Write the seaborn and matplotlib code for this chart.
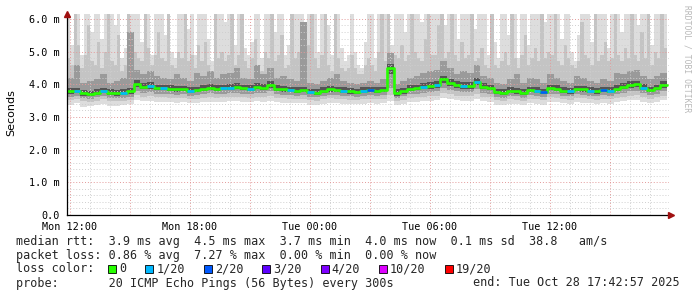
import numpy as np
import pandas as pd
import matplotlib
matplotlib.use("Agg")
import matplotlib.pyplot as plt
import matplotlib.dates as mdates
from matplotlib.patches import Rectangle
import seaborn as sns

# ---------------- data ----------------
start_time = "2025-10-27 11:51"
step_minutes = 20        # resolution of median / inner quantiles
fine_step_minutes = 10   # resolution of outer smoke (max / p90)

median_rtt = [3.78,3.80,3.72,3.70,3.74,3.80,3.74,3.72,3.74,3.78,
              4.02,3.92,3.95,3.88,3.88,3.86,3.84,3.85,3.80,3.82,
              3.86,3.90,3.86,3.88,3.90,3.92,3.88,3.86,3.92,3.90,
              3.98,3.86,3.84,3.82,3.80,3.82,3.76,3.74,3.80,3.84,
              3.82,3.80,3.78,3.76,3.80,3.82,3.80,3.82,4.50,3.72,
              3.78,3.86,3.88,3.92,3.95,3.98,4.15,4.05,3.98,3.95,
              3.95,4.08,3.92,3.88,3.76,3.74,3.80,3.78,3.74,3.82,
              3.80,3.76,3.88,3.86,3.80,3.78,3.85,3.84,3.80,3.78,
              3.82,3.80,3.86,3.92,3.98,4.00,3.90,3.82,3.88,3.98]

loss = [0,1,0,0,0,1,0,0,1,0,
        0,0,1,0,1,0,0,0,1,0,
        0,0,0,1,1,0,0,1,0,0,
        0,0,0,1,0,0,1,0,0,0,
        0,1,0,0,1,2,0,0,0,0,
        0,0,0,1,0,1,0,0,0,1,
        0,1,0,0,0,0,0,0,0,0,
        1,2,0,0,0,1,0,0,1,0,
        2,1,0,0,0,0,1,0,0,0]

p60 = [3.88,3.90,3.82,3.80,3.85,3.90,3.84,3.83,3.85,3.90,
       4.12,4.04,4.06,3.99,3.98,3.97,3.95,3.96,3.91,3.93,
       3.97,4.01,3.97,3.99,4.01,4.04,3.99,3.97,4.03,4.01,
       4.09,3.97,3.95,3.93,3.91,3.93,3.87,3.85,3.91,3.95,
       3.93,3.91,3.89,3.87,3.91,3.93,3.91,3.93,4.62,3.84,
       3.89,3.97,3.99,4.03,4.06,4.09,4.26,4.16,4.09,4.06,
       4.06,4.19,4.03,3.99,3.87,3.85,3.91,3.89,3.85,3.93,
       3.91,3.87,3.99,3.97,3.91,3.89,3.96,3.95,3.91,3.89,
       3.93,3.91,3.97,4.03,4.09,4.11,4.01,3.93,3.99,4.09]

p40 = [3.71,3.72,3.65,3.63,3.67,3.72,3.67,3.65,3.67,3.71,
       3.93,3.84,3.87,3.81,3.81,3.79,3.77,3.78,3.73,3.75,
       3.79,3.82,3.79,3.81,3.82,3.84,3.81,3.79,3.84,3.82,
       3.89,3.79,3.77,3.75,3.73,3.75,3.69,3.67,3.73,3.77,
       3.75,3.73,3.71,3.69,3.73,3.75,3.73,3.75,4.30,3.65,
       3.71,3.79,3.81,3.84,3.87,3.89,4.05,3.96,3.89,3.87,
       3.87,3.99,3.84,3.81,3.69,3.67,3.73,3.71,3.67,3.75,
       3.73,3.69,3.81,3.79,3.73,3.71,3.78,3.77,3.73,3.71,
       3.75,3.73,3.79,3.84,3.89,3.91,3.82,3.75,3.81,3.89]

p75 = [4.20,4.60,4.05,4.10,4.15,4.30,4.05,4.10,4.20,5.60,
       4.45,4.30,4.40,4.25,4.20,4.15,4.30,4.20,4.10,4.35,
       4.25,4.40,4.20,4.30,4.35,4.50,4.20,4.15,4.60,4.30,
       4.50,4.20,4.25,4.15,4.10,5.90,4.05,4.00,4.10,4.20,
       4.30,4.10,4.05,4.00,4.05,4.10,4.05,4.15,4.95,4.00,
       4.10,4.20,4.25,4.35,4.40,4.45,4.70,4.50,4.30,4.40,
       4.35,4.60,4.25,4.20,4.05,4.00,4.15,4.30,4.05,4.20,
       4.15,4.05,4.30,4.20,4.10,4.05,4.25,4.20,4.10,4.05,
       4.15,4.10,4.35,4.30,4.40,4.45,4.25,4.15,4.25,4.35]

p25 = [3.62,3.64,3.58,3.56,3.60,3.63,3.58,3.57,3.59,3.62,
       3.80,3.74,3.76,3.71,3.71,3.70,3.68,3.69,3.65,3.67,
       3.70,3.72,3.70,3.71,3.72,3.74,3.71,3.70,3.73,3.72,
       3.78,3.70,3.68,3.67,3.65,3.66,3.61,3.60,3.64,3.68,
       3.66,3.65,3.63,3.62,3.65,3.66,3.64,3.66,3.90,3.58,
       3.63,3.70,3.71,3.74,3.76,3.78,3.90,3.83,3.78,3.76,
       3.76,3.86,3.74,3.71,3.61,3.59,3.64,3.63,3.59,3.66,
       3.64,3.61,3.71,3.70,3.65,3.63,3.69,3.68,3.65,3.63,
       3.66,3.64,3.70,3.74,3.78,3.80,3.72,3.66,3.71,3.78]

p10 = [3.52,3.55,3.48,3.46,3.50,3.54,3.49,3.48,3.50,3.53,
       3.68,3.62,3.64,3.60,3.60,3.59,3.57,3.58,3.55,3.56,
       3.59,3.60,3.59,3.60,3.61,3.62,3.60,3.59,3.61,3.60,
       3.64,3.59,3.57,3.56,3.55,3.55,3.51,3.50,3.54,3.57,
       3.55,3.54,3.53,3.52,3.54,3.55,3.54,3.55,3.66,3.48,
       3.53,3.59,3.60,3.62,3.64,3.65,3.74,3.69,3.65,3.64,
       3.64,3.70,3.62,3.60,3.51,3.49,3.54,3.53,3.49,3.55,
       3.54,3.51,3.60,3.59,3.55,3.53,3.58,3.57,3.55,3.53,
       3.55,3.54,3.59,3.62,3.65,3.67,3.60,3.55,3.60,3.65]

min_rtt = [3.38,3.42,3.30,3.32,3.36,3.40,3.34,3.35,3.37,3.40,
           3.52,3.48,3.50,3.46,3.47,3.45,3.44,3.45,3.42,3.43,
           3.46,3.47,3.46,3.47,3.48,3.49,3.47,3.46,3.48,3.47,
           3.50,3.45,3.44,3.43,3.42,3.42,3.38,3.37,3.41,3.44,
           3.42,3.41,3.40,3.39,3.41,3.42,3.41,3.42,3.50,3.36,
           3.40,3.46,3.47,3.49,3.50,3.51,3.58,3.54,3.51,3.50,
           3.50,3.55,3.48,3.46,3.38,3.36,3.41,3.40,3.36,3.42,
           3.41,3.38,3.47,3.46,3.42,3.40,3.45,3.44,3.42,3.40,
           3.42,3.41,3.46,3.49,3.51,3.53,3.47,3.42,3.47,3.51]

# outer smoke at 10-minute resolution
max_rtt = [6.3,5.2,6.3,6.3,4.9,6.3,6.3,5.6,6.3,6.3,
           5.4,6.3,6.3,6.3,5.8,6.3,4.8,5.1,6.3,6.3,
           6.3,6.3,5.3,6.3,6.3,4.9,6.3,6.3,6.3,5.5,
           6.3,5.0,4.8,6.3,6.3,6.3,5.7,6.3,4.9,6.3,
           6.3,6.3,5.4,4.7,6.3,6.3,6.3,5.9,6.3,6.3,
           5.2,6.3,6.3,5.1,4.9,5.3,6.3,6.3,4.8,6.3,
           6.3,6.3,5.6,6.3,6.3,4.9,5.2,6.3,6.3,6.3,
           6.3,5.4,6.3,6.3,6.3,5.0,6.3,6.3,5.8,4.9,
           6.3,6.3,5.1,4.7,4.9,6.3,5.0,4.6,4.5,5.3,
           6.3,6.3,4.8,6.3,6.3,6.3,6.3,5.2,6.3,6.3,
           6.3,5.6,6.3,6.3,6.3,6.3,5.9,6.3,6.3,6.3,
           6.3,6.3,6.3,5.8,6.3,6.3,6.3,5.4,6.3,6.3,
           6.3,6.3,5.7,6.3,6.3,6.3,4.9,6.3,5.3,4.8,
           6.3,6.3,5.5,6.3,6.3,4.8,6.3,6.3,5.2,6.3,
           6.3,6.3,6.3,5.9,6.3,6.3,6.3,6.3,5.4,6.3,
           6.3,5.0,4.7,5.5,6.3,6.3,6.3,5.3,6.3,6.3,
           6.3,6.3,5.1,6.3,6.3,6.3,5.6,6.3,6.3,6.3,
           6.3,5.8,6.3,6.3,6.3,5.2,6.3,6.3,6.3,6.3]

p90 = [4.8,4.6,6.3,5.2,4.5,4.9,5.8,4.7,4.6,5.3,
       4.5,5.0,6.3,4.7,4.6,5.5,4.4,4.6,6.3,4.9,
       5.0,4.8,4.7,6.3,5.1,4.6,4.9,5.6,4.8,4.7,
       6.3,4.6,4.5,5.0,4.8,6.3,4.7,4.9,4.5,5.2,
       4.7,5.3,4.6,4.4,6.3,4.8,5.0,4.7,4.9,6.3,
       4.6,4.9,6.3,4.7,4.5,4.8,5.4,4.6,4.4,5.0,
       4.8,6.3,4.7,4.9,5.5,4.5,4.6,6.3,4.8,5.0,
       4.7,4.6,5.2,6.3,4.8,4.5,4.9,6.3,4.6,4.4,
       6.3,4.8,4.5,4.4,4.5,4.9,4.5,4.3,4.3,4.6,
       4.8,4.6,4.4,5.0,6.3,4.7,6.3,4.6,4.9,4.8,
       5.2,4.7,4.9,6.3,5.0,4.8,4.7,5.4,6.3,4.9,
       4.9,5.8,6.3,4.8,5.0,6.3,4.9,4.7,5.3,4.8,
       4.9,6.3,4.7,4.8,5.1,4.6,4.5,6.3,4.6,4.5,
       4.7,5.0,4.6,6.3,4.8,4.5,4.9,5.5,4.6,4.8,
       5.1,4.7,6.3,4.8,5.0,4.9,6.3,4.7,4.6,5.2,
       4.8,4.6,4.5,4.7,5.9,4.9,4.8,4.6,6.3,4.7,
       4.9,5.3,4.7,4.8,6.3,4.9,4.7,5.1,4.8,6.3,
       4.9,4.7,5.6,4.8,6.3,4.6,5.0,4.8,6.3,5.1]

loss_labels = ["0", "1/20", "2/20", "3/20", "4/20", "10/20", "19/20"]
loss_colors = ["#26ff00", "#00b8ff", "#0059ff", "#5e00ff", "#7e00ff", "#dd00ff", "#ff0000"]

y_ticks = [0.0, 1.0, 2.0, 3.0, 4.0, 5.0, 6.0]
y_tick_labels = ["0.0", "1.0 m", "2.0 m", "3.0 m", "4.0 m", "5.0 m", "6.0 m"]

stats_line1 = "median rtt:  3.9 ms avg  4.5 ms max  3.7 ms min  4.0 ms now  0.1 ms sd  38.8   am/s"
stats_line2 = "packet loss: 0.86 % avg  7.27 % max  0.00 % min  0.00 % now"
probe_text = "probe:       20 ICMP Echo Pings (56 Bytes) every 300s"
end_text = "end: Tue Oct 28 17:42:57 2025"

# ---------------- build ----------------
n = len(median_rtt)
t_edges = pd.date_range(start_time, periods=n + 1, freq=f"{step_minutes}min")
nf = len(max_rtt)
tf_edges = pd.date_range(start_time, periods=nf + 1, freq=f"{fine_step_minutes}min")

def ext(a):
    a = list(a)
    return np.array(a + [a[-1]])

sns.set_style("white")
plt.rcParams["font.family"] = ["DejaVu Sans Mono", "DejaVu Sans"]

W, H = 697, 297
fig = plt.figure(figsize=(W / 100, H / 100), dpi=100)
fig.patch.set_facecolor("white")
ax = fig.add_axes([67 / W, 82 / H, 602 / W, 201 / H])
ax.set_facecolor("white")

# outer smoke (fine resolution): min..max lightest, then p10..p90
ax.fill_between(tf_edges, 3.0, ext(max_rtt), step="post", color="#dddddd",
                linewidth=0, zorder=1)
ax.fill_between(tf_edges, 3.0, ext(p90), step="post", color="#c4c4c4",
                linewidth=0, zorder=1.1)
# clear below min (white) then draw lower parts from 20-min series
ax.fill_between(t_edges, 2.9, ext(min_rtt), step="post", color="white",
                linewidth=0, zorder=1.2)
ax.fill_between(t_edges, ext(min_rtt), ext(p10), step="post", color="#dddddd",
                linewidth=0, zorder=1.3)
ax.fill_between(t_edges, ext(p10), ext(p25), step="post", color="#c4c4c4",
                linewidth=0, zorder=1.3)
ax.fill_between(t_edges, ext(p25), ext(p75), step="post", color="#9a9a9a",
                linewidth=0, zorder=1.4)
ax.fill_between(t_edges, ext(p40), ext(p60), step="post", color="#555555",
                linewidth=0, zorder=1.5)

# median line (green base), then loss-coloured segments
df = pd.DataFrame({"time": t_edges, "median": ext(median_rtt)})
sns.lineplot(data=df, x="time", y="median", drawstyle="steps-post",
             color=loss_colors[0], linewidth=1.9, estimator=None, ax=ax,
             zorder=4)
for i in range(n):
    if loss[i] > 0:
        ax.hlines(median_rtt[i], t_edges[i], t_edges[i + 1],
                  color=loss_colors[loss[i]], linewidth=1.9, zorder=5)

# axes limits
ax.set_xlim(pd.Timestamp(start_time), pd.Timestamp("2025-10-28 17:57"))
ax.set_ylim(0, 6.15)

# grid / ticks
ax.xaxis.set_major_locator(mdates.HourLocator(byhour=[0, 3, 6, 9, 12, 15, 18, 21]))
ax.xaxis.set_minor_locator(mdates.HourLocator())

def xfmt(v, pos):
    d = mdates.num2date(v)
    return d.strftime("%a %H:%M") if d.hour % 6 == 0 else ""

ax.xaxis.set_major_formatter(plt.FuncFormatter(xfmt))
ax.set_yticks(y_ticks)
ax.set_yticklabels(y_tick_labels)
ax.yaxis.set_minor_locator(plt.MultipleLocator(0.2))

ax.set_axisbelow(False)
ax.grid(which="minor", color="#cfcfcf", linestyle=(0, (1, 2)), linewidth=0.7)
ax.grid(which="major", color="#e39a9a", linestyle=(0, (1, 2)), linewidth=0.7)

for side in ["top", "right"]:
    ax.spines[side].set_visible(False)
for side in ["left", "bottom"]:
    ax.spines[side].set_color("black")
    ax.spines[side].set_linewidth(0.9)
    ax.spines[side].set_zorder(6)

ax.tick_params(axis="both", which="major", length=2, width=0.7, color="#cc6666",
               labelsize=7.3, labelcolor="black", pad=3)
ax.tick_params(axis="both", which="minor", length=0)
ax.set_xlabel("")
ax.set_ylabel("")

# axis arrows
ax.plot([0], [1.0], marker="^", markersize=4, color="#a01010", transform=ax.transAxes,
        clip_on=False, zorder=7)
ax.plot([1.004], [0], marker=">", markersize=4, color="#a01010", transform=ax.transAxes,
        clip_on=False, zorder=7)

# y label
fig.text(11 / W, 1 - 113 / H, "Seconds", rotation=90, ha="center", va="center",
         fontsize=8, family="DejaVu Sans", color="black")

# watermark
fig.text(687 / W, 1 - 59 / H, "RRDTOOL / TOBI OETIKER", rotation=270, ha="center",
         va="center", fontsize=5.8, color="#b8b8b8")

# legend / stats
fs = 8.5
cw = 7.1
def fy(y):
    return 1 - y / H

fig.text(16 / W, fy(241), stats_line1, fontsize=fs, va="center", ha="left")
fig.text(16 / W, fy(255), stats_line2, fontsize=fs, va="center", ha="left")
fig.text(16 / W, fy(269), "loss color:", fontsize=fs, va="center", ha="left")
x = 16 + 13 * cw
for lab, col in zip(loss_labels, loss_colors):
    fig.add_artist(Rectangle((x / W, fy(273)), 8 / W, 8 / H, transform=fig.transFigure,
                             facecolor=col, edgecolor="black", linewidth=0.6))
    fig.text((x + 11) / W, fy(269), lab, fontsize=fs, va="center", ha="left")
    x = x + 10 + len(lab) * cw + 20
fig.text(16 / W, fy(283), probe_text, fontsize=fs, va="center", ha="left")
fig.text(680 / W, fy(283), end_text, fontsize=fs, va="center", ha="right")

fig.savefig("out.png", dpi=100, facecolor="white")
